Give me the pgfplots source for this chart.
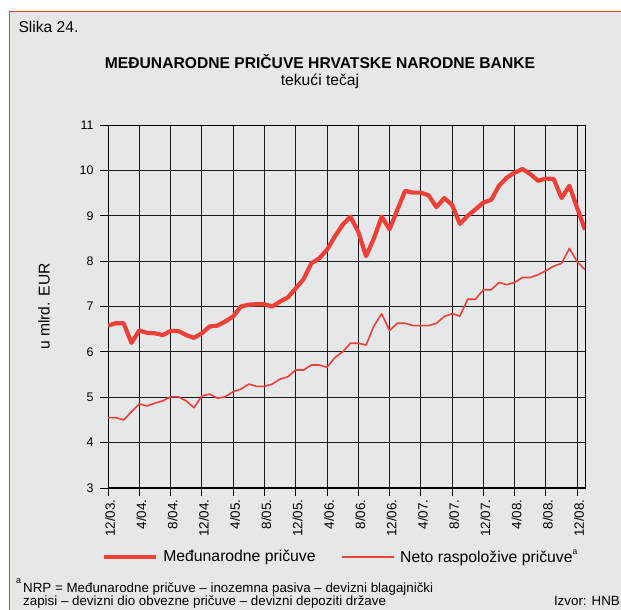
\documentclass[border=0pt]{standalone}
\usepackage{pgfplots}
\pgfplotsset{compat=1.18}
\usepackage{fontspec}
\setmainfont{Liberation Sans}

\definecolor{hnbred}{RGB}{238,64,54}
\definecolor{panel}{RGB}{230,231,232}

% monthly values, 12/03 = 0
\pgfplotstableread{
m  mp    nrp
0  6.58  4.55
1  6.63  4.55
2  6.63  4.50
3  6.20  4.68
4  6.47  4.85
5  6.42  4.81
6  6.41  4.87
7  6.37  4.92
8  6.46  5.01
9  6.46  5.01
10 6.37  4.92
11 6.31  4.77
12 6.41  5.03
13 6.56  5.07
14 6.58  4.98
15 6.67  5.01
16 6.78  5.12
17 7.00  5.18
18 7.04  5.29
19 7.05  5.24
20 7.05  5.24
21 7.00  5.29
22 7.11  5.40
23 7.20  5.45
24 7.40  5.60
25 7.60  5.60
26 7.95  5.71
27 8.06  5.71
28 8.25  5.66
29 8.54  5.87
30 8.80  6.00
31 8.98  6.19
32 8.65  6.19
33 8.11  6.15
34 8.50  6.57
35 8.98  6.84
36 8.70  6.47
37 9.13  6.63
38 9.55  6.63
39 9.51  6.58
40 9.51  6.58
41 9.45  6.58
42 9.19  6.63
43 9.39  6.78
44 9.24  6.84
45 8.82  6.79
46 9.00  7.16
47 9.14  7.16
48 9.29  7.37
49 9.35  7.37
50 9.66  7.53
51 9.84  7.48
52 9.95  7.53
53 10.03 7.64
54 9.92  7.64
55 9.77  7.70
56 9.82  7.79
57 9.81  7.89
58 9.39  7.95
59 9.66  8.28
60 9.17  7.99
61 8.69  7.81
}\reserves

\begin{document}
\begin{tikzpicture}
\useasboundingbox (0,0) rectangle (621bp,-610bp);
\fill[white] (0,0) rectangle (621bp,-610bp);
\filldraw[fill=panel, draw=hnbred, line width=1bp] (9.5bp,-11.5bp) rectangle (640bp,-640bp);

\node[anchor=base west, font=\fontsize{15.7}{18}\selectfont] at (15bp,-32bp) {Slika 24.};
\node[anchor=base, font=\fontsize{15.7}{18}\selectfont\bfseries] at (320bp,-68bp) {MEĐUNARODNE PRIČUVE HRVATSKE NARODNE BANKE};
\node[anchor=base, font=\fontsize{15.7}{18}\selectfont] at (320bp,-85bp) {tekući tečaj};

\node[anchor=base west, inner sep=0pt, font=\fontsize{9}{10}\selectfont] at (16bp,-583bp) {a};
\node[anchor=base west, inner sep=0pt, font=\fontsize{13.4}{13.5}\selectfont] at (23bp,-592bp) {NRP = Međunarodne pričuve – inozemna pasiva – devizni blagajnički};
\node[anchor=base west, inner sep=0pt, font=\fontsize{13.4}{13.5}\selectfont] at (23bp,-605.5bp) {zapisi – devizni dio obvezne pričuve – devizni depoziti države};
\node[anchor=base east, inner sep=0pt, font=\fontsize{13.4}{13.5}\selectfont] at (620bp,-605.5bp) {Izvor: HNB};

\begin{axis}[
  at={(108bp,-488bp)}, anchor=south west,
  scale only axis,
  width=477bp, height=363bp,
  xmin=0, xmax=61,
  ymin=3, ymax=11,
  xtick={0,4,...,60},
  xticklabels={12/03.,4/04.,8/04.,12/04.,4/05.,8/05.,12/05.,4/06.,8/06.,12/06.,4/07.,8/07.,12/07.,4/08.,8/08.,12/08.},
  ytick={3,4,...,11},
  /pgf/number format/assume math mode=true,
  xticklabel style={rotate=90, anchor=east, font=\fontsize{13.5}{14}\selectfont, yshift=-2bp},
  yticklabel style={font=\fontsize{12.5}{14}\selectfont, xshift=-3bp},
  tick align=outside,
  major tick length=8bp,
  xtick pos=bottom, ytick pos=left,
  tick style={black, line width=0.9bp},
  grid=major,
  major grid style={black!90, line width=0.9bp},
  axis line style={black, line width=0.9bp},
  ylabel={u mlrd. EUR},
  ylabel style={at={(axis description cs:-0.134,0.5)}, anchor=center, rotate=0, font=\fontsize{15.7}{18}\selectfont},
  legend columns=2,
  legend style={at={(axis description cs:-0.0126,-0.19)}, anchor=west,
    draw=none, fill=none, inner sep=0pt,
    font=\fontsize{15.8}{18}\selectfont,
    /tikz/every odd column/.append style={column sep=3bp},
    /tikz/every even column/.append style={column sep=24bp}},
  legend image code/.code={\draw[#1] (0bp,0bp) -- (52bp,0bp);},
]
\draw[black, line width=2.4bp] (rel axis cs:0,1) -- (rel axis cs:0,0) -- (rel axis cs:1,0);
\addplot[hnbred, line width=4.2bp, line join=round] table[x=m, y=mp] {\reserves};
\addlegendentry{Međunarodne pričuve}
\addplot[hnbred, line width=1.6bp, line join=round] table[x=m, y=nrp] {\reserves};
\addlegendentry{Neto raspoložive pričuve\raisebox{0.55em}{\fontsize{8.5}{9}\selectfont a}}
\end{axis}
\end{tikzpicture}
\end{document}
